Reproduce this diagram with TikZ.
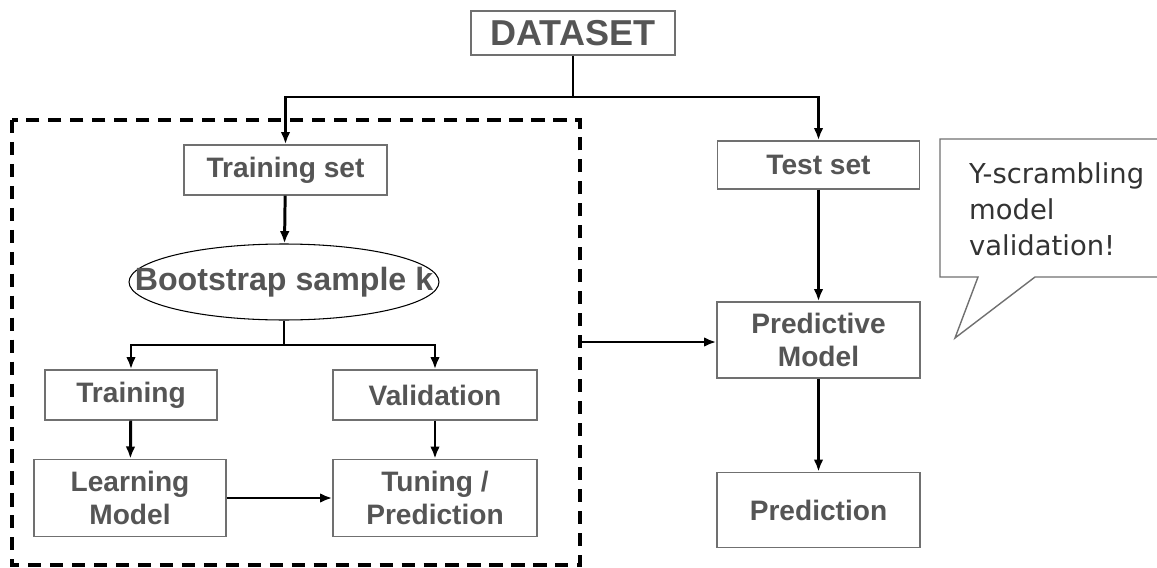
\documentclass[tikz,border=0pt]{standalone}
\usepackage{fontspec}
\setmainfont{Liberation Sans}
\newfontfamily\calloutfont{DejaVu Sans}
\usetikzlibrary{shapes.geometric,arrows.meta}
\definecolor{txtgray}{HTML}{555555}
\definecolor{boxgray}{HTML}{707070}
\tikzset{
  px/.style={x=0.02cm,y=-0.02cm},
  stepbox/.style={draw=boxgray,line width=0.8pt,fill=white,text=txtgray,
    font=\bfseries\fontsize{16}{19}\selectfont,align=center,inner sep=0pt},
  flow/.style={line width=1.7pt,-{Latex[length=7pt,width=5.5pt]}},
  plain/.style={line width=1.7pt},
}
\begin{document}
\begin{tikzpicture}[px]
\useasboundingbox (0,0) rectangle (1157,568);
% dashed frame
\draw[line width=1.9pt,dash pattern=on 7.5pt off 5pt] (12,120) rectangle (580,565);
% nodes
\node[stepbox,minimum width=4.08cm,minimum height=0.88cm,font=\bfseries\fontsize{20.5}{24}\selectfont] (data) at (573,33) {DATASET};
\node[stepbox,minimum width=4.06cm,minimum height=1.0cm] (trainset) at (285.5,170) {Training set};
\node[stepbox,minimum width=4.04cm,minimum height=0.96cm] (testset) at (818.5,165) {Test set};
\node[draw=black,line width=0.6pt,ellipse,minimum width=6.2cm,minimum height=1.52cm,inner sep=0pt,text=txtgray,
  font=\bfseries\fontsize{18.3}{21}\selectfont] (boot) at (284,282) {\makebox[0pt]{Bootstrap sample k}};
\node[stepbox,minimum width=3.44cm,minimum height=1.0cm] (training) at (131,395) {Training};
\node[stepbox,minimum width=4.08cm,minimum height=1.0cm] (valid) at (435,395) {Validation};
\node[stepbox,minimum width=3.84cm,minimum height=1.54cm] (learn) at (130,498) {Learning\\Model};
\node[stepbox,minimum width=4.08cm,minimum height=1.54cm] (tune) at (435,498) {Tuning /\\Prediction};
\node[stepbox,minimum width=4.06cm,minimum height=1.52cm] (predmod) at (818.5,340) {Predictive\\Model};
\node[stepbox,minimum width=4.06cm,minimum height=1.5cm] (pred) at (818.5,510) {Prediction};
% connectors
\coordinate (split) at (573,97);
\coordinate (bsplit) at (284,345);
\coordinate (frameout) at (580,342);
\draw[plain] (data.south) -- (split);
\draw[flow] (split) -| (trainset.north);
\draw[flow] (split) -| (testset.north);
\draw[flow] (trainset) -- (boot);
\draw[plain] (boot.south) -- (bsplit);
\draw[flow] (bsplit) -| (training.north);
\draw[flow] (bsplit) -| (valid.north);
\draw[flow] (training) -- (learn);
\draw[flow] (valid) -- (tune);
\draw[flow] (learn) -- (tune);
\draw[flow] (testset) -- (predmod);
\draw[flow] (predmod) -- (pred);
\draw[flow] (frameout) -- (predmod.west |- frameout);
% callout
\draw[draw=boxgray,line width=0.8pt,line join=miter]
  (1160,139) -- (940,139) -- (940,277) -- (978,277) -- (955,338) -- (1035,277) -- (1160,277);
\node[anchor=base west,align=left,text=black!80,font=\calloutfont\fontsize{15.6}{20.3}\selectfont] (callout) at (963,255)
  {Y-scrambling\\model\\validation!};
\end{tikzpicture}
\end{document}
